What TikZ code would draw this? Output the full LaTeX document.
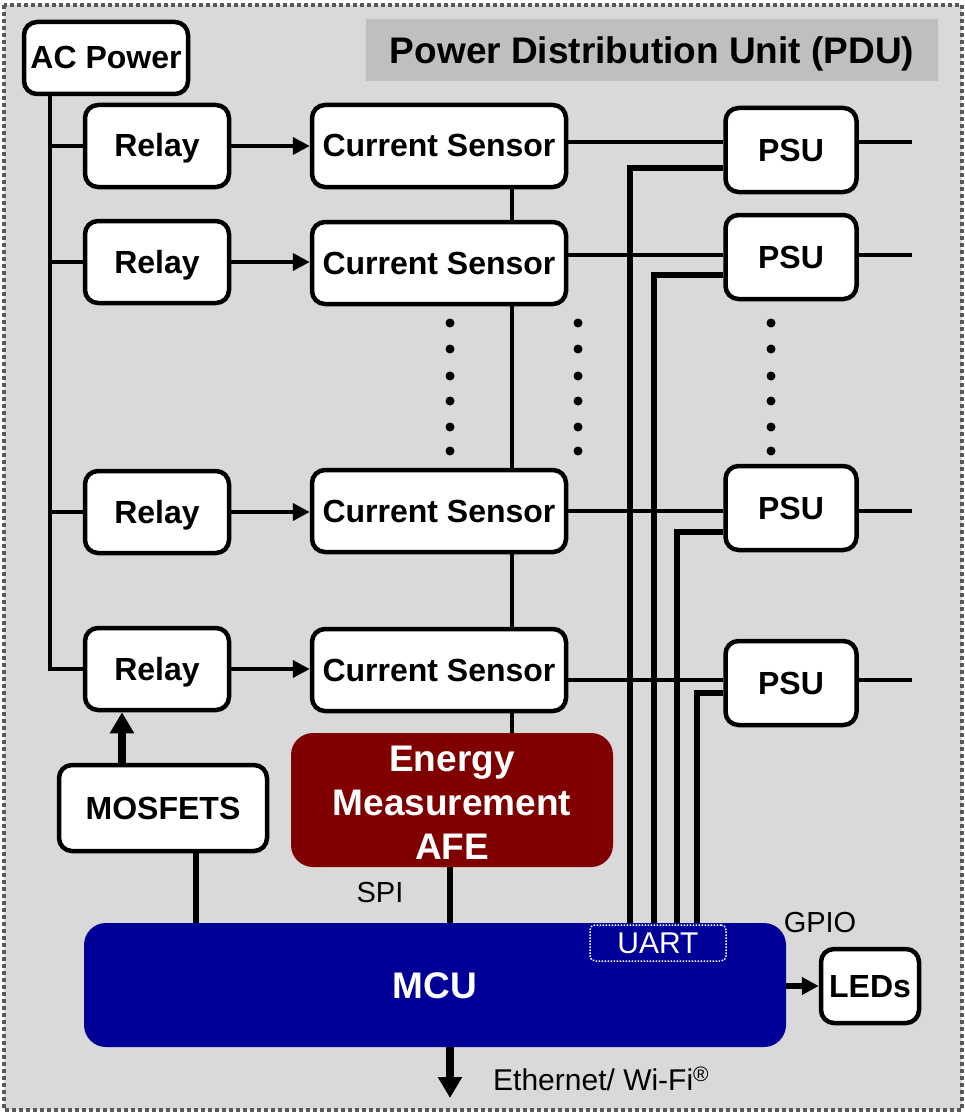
\documentclass[tikz,border=0pt]{standalone}
\usepackage{fontspec}
\setmainfont{Liberation Sans}
\usetikzlibrary{arrows.meta,calc}
\definecolor{bgc}{HTML}{D9D9D9}
\definecolor{titlec}{HTML}{BFBFBF}
\definecolor{bordc}{HTML}{595959}
\definecolor{afec}{HTML}{800000}
\definecolor{mcuc}{HTML}{000099}
\tikzset{
  box/.style={draw, line width=4.5pt, rounded corners=13pt, fill=white, inner sep=0pt,
    text height=22pt, text depth=0pt,
    font=\bfseries\fontsize{32}{36}\selectfont},
  relaybox/.style={box, minimum width=144pt, minimum height=82pt},
  csbox/.style={box, minimum width=254pt, minimum height=82pt},
  psubox/.style={box, minimum width=131pt, minimum height=84pt},
  wire/.style={line width=4pt},
  bus/.style={line width=6.5pt},
  arr/.style={line width=4pt, -{Triangle[length=17pt,width=17pt]}},
  bigarr/.style={line width=7.5pt, -{Triangle[length=21pt,width=23pt]}},
  lbl/.style={font=\fontsize{29}{34}\selectfont, inner sep=0pt},
  dotmark/.style={fill=black},
}
\begin{document}
\begin{tikzpicture}[x=1pt,y=-1pt]
\useasboundingbox (0,0) rectangle (965,1113);
\fill[white] (0,0) rectangle (965,1113);
\fill[bgc] (4,5) rectangle (962,1110);
\draw[bordc, line width=4pt, dash pattern=on 4pt off 3pt] (4,5) rectangle (962,1110);

% title
\node[fill=titlec, minimum width=572pt, minimum height=62pt, inner sep=0pt,
  text height=27pt, text depth=0pt,
  font=\bfseries\fontsize{37}{44}\selectfont] (title) at (652,50) {Power Distribution Unit (PDU)};

% boxes
\node[box, minimum width=164pt, minimum height=72pt] (acp) at (106,58) {AC Power};
\node[relaybox] (r1) at (157,146) {Relay};
\node[relaybox] (r2) at (157,262) {Relay};
\node[relaybox] (r3) at (157,512) {Relay};
\node[relaybox] (r4) at (157,669) {Relay};
\node[csbox] (cs1) at (439,146) {Current Sensor};
\node[csbox] (cs2) at (439,263) {Current Sensor};
\node[csbox] (cs3) at (439,511) {Current Sensor};
\node[csbox] (cs4) at (439,670) {Current Sensor};
\node[psubox] (psu1) at (791,150) {PSU};
\node[psubox] (psu2) at (791,257) {PSU};
\node[psubox] (psu3) at (791,508) {PSU};
\node[psubox] (psu4) at (791,683) {PSU};
\node[box, minimum width=208pt, minimum height=86pt] (mos) at (163,808) {MOSFETS};
\node[box, minimum width=98pt, minimum height=74pt] (leds) at (870,986) {LEDs};
\node[fill=afec, rounded corners=22pt, minimum width=322pt, minimum height=134pt, inner sep=0pt,
  text=white, align=center, font=\bfseries\fontsize{37}{44}\selectfont] (afe) at (452,800)
  {\rule{0pt}{30pt}Energy\\Measurement\\AFE};
\node[fill=mcuc, rounded corners=22pt, minimum width=702pt, minimum height=124pt, inner sep=0pt,
  text=white, text height=27pt, text depth=0pt,
  font=\bfseries\fontsize{37}{44}\selectfont] (mcu) at (435,985) {MCU};
\node[draw=white, line width=1.5pt, dash pattern=on 1.5pt off 1.5pt, rounded corners=5pt,
  minimum width=136pt, minimum height=36pt, inner sep=0pt, text=white,
  font=\fontsize{30}{34}\selectfont] (uart) at (658,943) {UART};

% labels
\node[lbl] (spi) at (380,893) {SPI};
\node[lbl] (gpio) at (820,923) {GPIO};
\node[lbl, anchor=west, font=\fontsize{30}{34}\selectfont] (ethl) at (493,1079) {Ethernet/ Wi-Fi\textsuperscript{®}};

% free ends
\coordinate (o1) at (912,142);
\coordinate (o2) at (912,255);
\coordinate (o3) at (912,511);
\coordinate (o4) at (912,680);
\coordinate (eth) at (450,1098);

% AC power bus
\draw[wire] (acp.south -| 50,0) |- (r4.west);
\draw[wire] (r1.west) -- (r1.west -| 50,0);
\draw[wire] (r2.west) -- (r2.west -| 50,0);
\draw[wire] (r3.west) -- (r3.west -| 50,0);

% relay -> current sensor
\draw[arr] (r1.east) -- (cs1.west |- r1.east);
\draw[arr] (r2.east) -- (cs2.west |- r2.east);
\draw[arr] (r3.east) -- (cs3.west |- r3.east);
\draw[arr] (r4.east) -- (cs4.west |- r4.east);

% current sensor chain
\draw[wire] (cs1.south -| 512,0) -- (cs2.north -| 512,0);
\draw[wire] (cs2.south -| 512,0) -- (cs3.north -| 512,0);
\draw[wire] (cs3.south -| 512,0) -- (cs4.north -| 512,0);
\draw[wire] (cs4.south -| 512,0) -- (afe.north -| 512,0);

% current sensor -> PSU
\draw[wire] (cs1.east |- o1) -- (psu1.west |- o1);
\draw[wire] (cs2.east |- o2) -- (psu2.west |- o2);
\draw[wire] (cs3.east |- o3) -- (psu3.west |- o3);
\draw[wire] (cs4.east |- o4) -- (psu4.west |- o4);

% PSU outputs
\draw[wire] (psu1.east |- o1) -- (o1);
\draw[wire] (psu2.east |- o2) -- (o2);
\draw[wire] (psu3.east |- o3) -- (o3);
\draw[wire] (psu4.east |- o4) -- (o4);

% UART buses
\draw[bus] (psu1.west |- 0,168) -| (mcu.north -| 630,0);
\draw[bus] (psu2.west |- 0,275) -| (mcu.north -| 654,0);
\draw[bus] (psu3.west |- 0,532) -| (mcu.north -| 677,0);
\draw[bus] (psu4.west |- 0,693) -| (mcu.north -| 697,0);

% MOSFETS, SPI
\draw[bus] (mos.south -| 196,0) -- (mcu.north -| 196,0);
\draw[bus] (afe.south -| 450,0) -- (mcu.north -| 450,0);
\draw[bigarr] (mos.north -| 122,0) -- (r4.south -| 122,0);

% MCU outputs
\draw[bigarr] (mcu.south -| 450,0) -- (eth);
\draw[arr, line width=6pt] (mcu.east |- leds.west) -- (leds.west);

% dots
\foreach \x in {450,578,771}
  \foreach \y in {323,349,376,401,427,451}
    \fill[dotmark] (\x,\y) circle (4.5pt);
\end{tikzpicture}
\end{document}
